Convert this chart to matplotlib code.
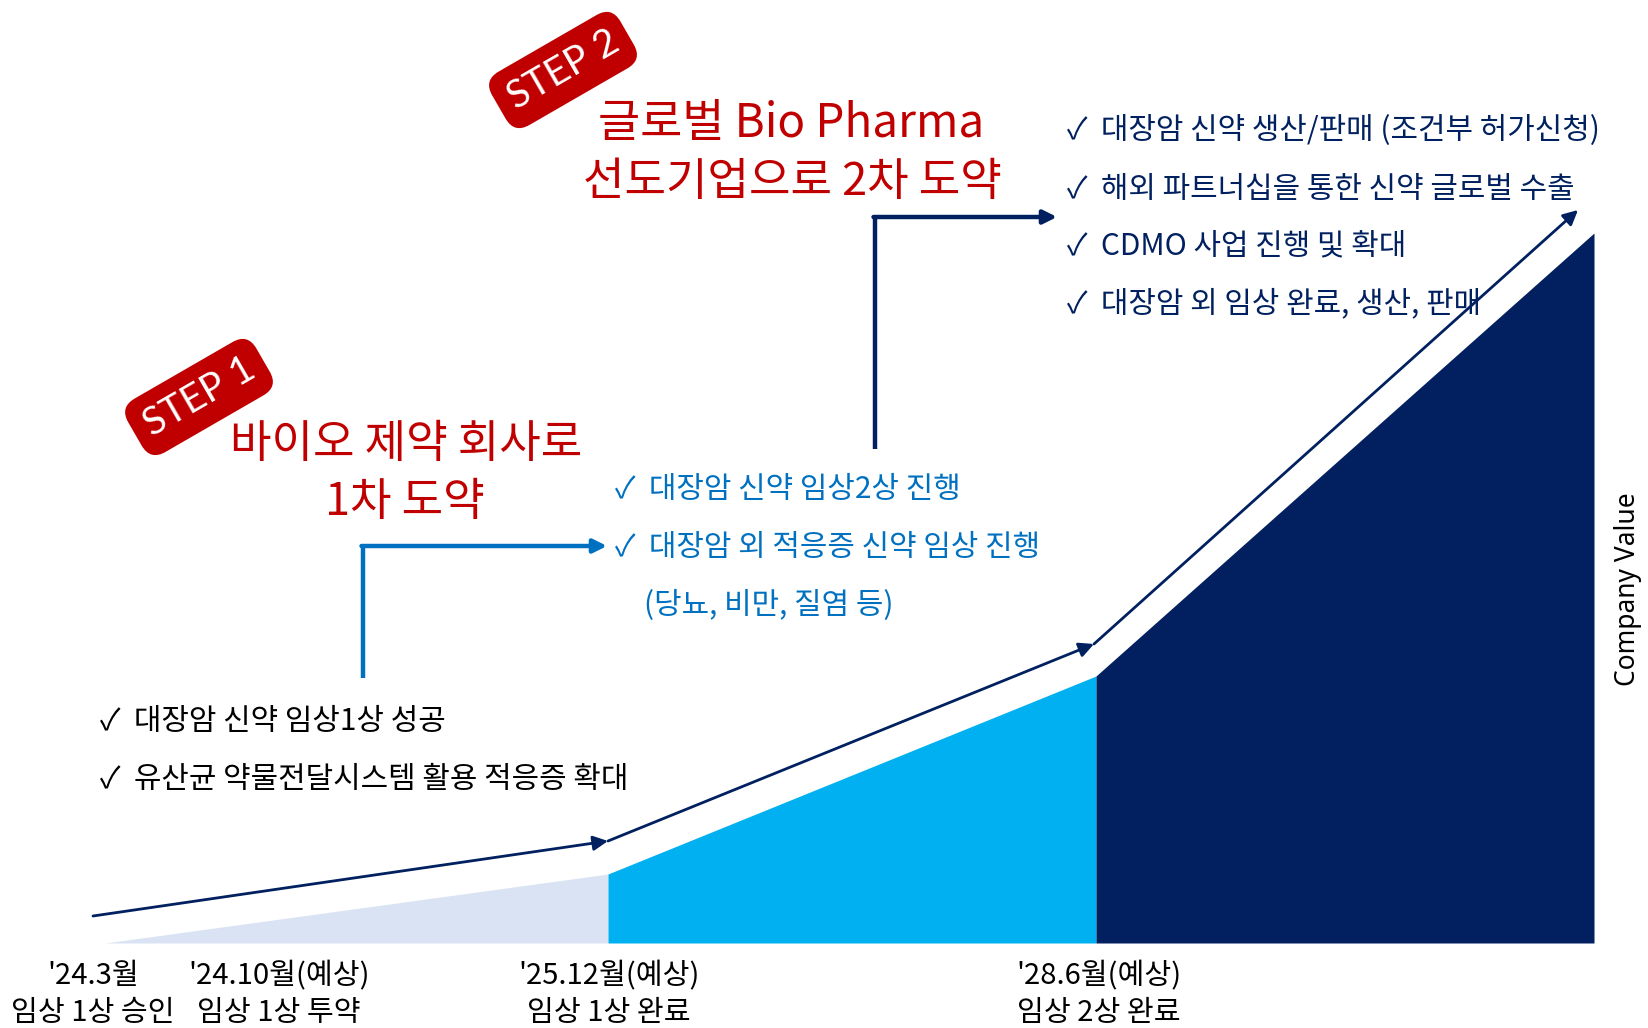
import matplotlib.pyplot as plt

plt.rcParams['font.family'] = ['Noto Sans CJK KR', 'DejaVu Sans']

# phase boundaries along the timeline and company value (height above baseline)
stage_x = [105, 608, 1096, 1594]
stage_value = [0, 69, 267, 710]
stage_colors = ['#DAE3F3', '#00B0F0', '#021F5F']

# trend arrow above the area
trend_x = [93, 608, 1094, 1578]
trend_value = [27, 102, 299, 733]

# milestones under the baseline
milestone_x = [93, 279, 609, 1099]
milestone_date = ["'24.3월", "'24.10월(예상)", "'25.12월(예상)", "'28.6월(예상)"]
milestone_desc = ['임상 1상 승인', '임상 1상 투약', '임상 1상 완료', '임상 2상 완료']

step1_items = ['대장암 신약 임상1상 성공', '유산균 약물전달시스템 활용 적응증 확대']
step2_items = ['대장암 신약 임상2상 진행', '대장암 외 적응증 신약 임상 진행']
step2_note = '(당뇨, 비만, 질염 등)'
step3_items = ['대장암 신약 생산/판매 (조건부 허가신청)', '해외 파트너십을 통한 신약 글로벌 수출',
               'CDMO 사업 진행 및 확대', '대장암 외 임상 완료, 생산, 판매']

red = '#C00000'
blue = '#0070C0'
navy = '#002060'

fig = plt.figure(figsize=(16.49, 10.28), dpi=100)
ax = fig.add_axes([0, 0, 1, 1])
ax.set_xlim(0, 1649)
ax.set_ylim(-85, 943)
ax.axis('off')

# value area, one polygon per phase
for i in range(3):
    xs = [stage_x[i], stage_x[i + 1]]
    ys = [stage_value[i], stage_value[i + 1]]
    ax.fill_between(xs, [0, 0], ys, color=stage_colors[i], lw=0)

# trend arrows
for i in range(3):
    ax.annotate('', xy=(trend_x[i + 1], trend_value[i + 1]), xytext=(trend_x[i], trend_value[i]),
                arrowprops=dict(arrowstyle='-|>', color=navy, lw=2, mutation_scale=22,
                                shrinkA=0, shrinkB=0))

# elbow arrows pointing to the step texts
ax.plot([363, 363], [265, 397], color=blue, lw=3.2, solid_capstyle='butt')
ax.annotate('', xy=(607, 397), xytext=(361.5, 397),
            arrowprops=dict(arrowstyle='-|>', color=blue, lw=3.2, mutation_scale=20,
                            shrinkA=0, shrinkB=0))
ax.plot([875, 875], [494, 726], color=navy, lw=3.2, solid_capstyle='butt')
ax.annotate('', xy=(1057, 726), xytext=(873.5, 726),
            arrowprops=dict(arrowstyle='-|>', color=navy, lw=3.2, mutation_scale=20,
                            shrinkA=0, shrinkB=0))

# STEP badges
for (x, y, label) in [(199, 546, 'STEP 1'), (563, 873, 'STEP 2')]:
    ax.text(x, y, label, rotation=30, rotation_mode='anchor', ha='center', va='center',
            color='white', fontsize=28, family='Lato',
            bbox=dict(boxstyle='round,pad=0.33,rounding_size=0.45', fc=red, ec='none'))

# red titles
ax.text(386 * 1.0517, 499, '바이오 제약 회사로', color=red, fontsize=32.5, ha='center', va='center')
ax.text(405, 441, '1차 도약', color=red, fontsize=32.5, ha='center', va='center')
ax.text(791, 819, '글로벌 Bio Pharma', color=red, fontsize=33, ha='center', va='center')
ax.text(792, 761, '선도기업으로 2차 도약', color=red, fontsize=32.5, ha='center', va='center')

# bullet lists
for t, y in zip(step1_items, [222, 164]):
    ax.text(100, y, '✓  ' + t, color='black', fontsize=21.5, ha='left', va='center')
for t, y in zip(step2_items, [454, 396]):
    ax.text(615, y, '✓  ' + t, color=blue, fontsize=21.5, ha='left', va='center')
ax.text(644, 337, step2_note, color=blue, fontsize=21.5, ha='left', va='center')
for t, y in zip(step3_items, [812, 754, 697, 639]):
    ax.text(1067, y, '✓  ' + t, color=navy, fontsize=21.5, ha='left', va='center')

# milestone labels
for x, d, s in zip(milestone_x, milestone_date, milestone_desc):
    ax.text(x, -33, d, fontsize=21, ha='center', va='center', color='black')
    ax.text(x, -70, s, fontsize=21, ha='center', va='center', color='black')

ax.text(1628, 354, 'Company Value', rotation=90, fontsize=19, family='Noto Sans',
        ha='center', va='center', color='black')

fig.savefig('out.png', dpi=100)
